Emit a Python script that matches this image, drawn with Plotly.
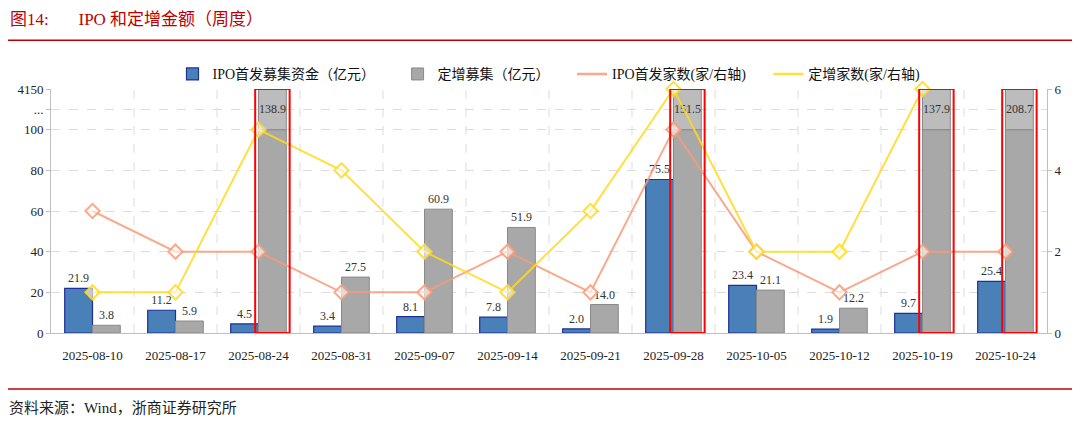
import plotly.graph_objects as go

categories = ["2025-08-10", "2025-08-17", "2025-08-24", "2025-08-31", "2025-09-07", "2025-09-14",
              "2025-09-21", "2025-09-28", "2025-10-05", "2025-10-12", "2025-10-19", "2025-10-24"]
ipo_amount = [21.9, 11.2, 4.5, 3.4, 8.1, 7.8, 2.0, 75.5, 23.4, 1.9, 9.7, 25.4]
placement_amount = [3.8, 5.9, 138.9, 27.5, 60.9, 51.9, 14.0, 151.5, 21.1, 12.2, 137.9, 208.7]
ipo_count = [3, 2, 2, 1, 1, 2, 1, 5, 2, 1, 2, 2]
placement_count = [1, 1, 5, 4, 2, 1, 3, 6, 2, 2, 6, None]

left_tickvals = [0, 20, 40, 60, 80, 100, 110, 120]
left_ticktext = ["0", "20", "40", "60", "80", "100", "...", "4150"]

BREAK = 100      # display value where axis breaks
TOP = 120        # display top of axis
FONT = "Liberation Serif, Noto Sans CJK SC, serif"
CJK = "Liberation Serif, Noto Sans CJK SC, serif"

BLUE = "#4a80b8"
BLUE_LINE = "#1f2f9a"
GRAY = "#a8a8a8"
GRAY_LIGHT = "#bcbcbc"
GRAY_LINE = "#8a8a8a"
SALMON = "rgba(248,155,120,0.85)"
YELLOW = "rgba(255,218,30,0.85)"

n = len(categories)
xs = list(range(n))
bargap = 0.33
PAD = "\u00a0\u00a0\u00a0\u00a0\u00a0"

fig = go.Figure()

fig.add_trace(go.Bar(
    x=xs, y=[min(v, BREAK) for v in ipo_amount], name="IPO首发募集资金（亿元）" + PAD,
    marker=dict(color=BLUE, line=dict(color=BLUE_LINE, width=1.2)),
    text=[f"{v:.1f}" for v in ipo_amount], textposition="outside",
    textfont=dict(family=FONT, size=12, color="#333333"), cliponaxis=False,
    offsetgroup="a", yaxis="y",
))

fig.add_trace(go.Bar(
    x=xs, y=[min(v, BREAK) for v in placement_amount], name="定增募集（亿元）" + PAD,
    marker=dict(color=GRAY, line=dict(color=GRAY_LINE, width=1)),
    text=[f"{v:.1f}" if v <= BREAK else "" for v in placement_amount], textposition="outside",
    textfont=dict(family=FONT, size=12, color="#333333"), cliponaxis=False,
    offsetgroup="b", yaxis="y",
))

over_idx = [i for i, v in enumerate(placement_amount) if v > BREAK]
fig.add_trace(go.Bar(
    x=over_idx, y=[TOP - BREAK for _ in over_idx], base=[BREAK for _ in over_idx],
    marker=dict(color=GRAY_LIGHT, line=dict(color=GRAY_LINE, width=1)),
    text=[f"{placement_amount[i]:.1f}" for i in over_idx], textposition="inside",
    insidetextanchor="middle", textangle=0, constraintext="none",
    textfont=dict(family=FONT, size=12, color="#333333"),
    offsetgroup="b", showlegend=False, yaxis="y",
))

fig.add_trace(go.Scatter(
    x=xs, y=ipo_count, name="IPO首发家数(家/右轴)", mode="lines+markers",
    line=dict(color=SALMON, width=2),
    marker=dict(symbol="diamond", size=11, color="rgba(255,255,255,0.6)", line=dict(color=SALMON, width=2)),
    yaxis="y2", cliponaxis=False, showlegend=False,
))
fig.add_trace(go.Scatter(
    x=xs, y=placement_count, name="定增家数(家/右轴)", mode="lines+markers",
    line=dict(color=YELLOW, width=2),
    marker=dict(symbol="diamond", size=11, color="rgba(255,255,255,0.6)", line=dict(color=YELLOW, width=2)),
    yaxis="y2", cliponaxis=False, showlegend=False,
))
# legend entries (line only)
fig.add_trace(go.Scatter(x=[None], y=[None], name="IPO首发家数(家/右轴)" + PAD, mode="lines",
                         line=dict(color=SALMON, width=2.5), yaxis="y2"))
fig.add_trace(go.Scatter(x=[None], y=[None], name="定增家数(家/右轴)", mode="lines",
                         line=dict(color=YELLOW, width=2.5), yaxis="y2"))

# red outlines around clipped bars
half_group = (1 - bargap) / 2
for i in over_idx:
    fig.add_shape(type="rect", xref="x", yref="y",
                  x0=i - 0.04, x1=i + half_group + 0.04, y0=0, y1=TOP,
                  line=dict(color="#ff0000", width=2), fillcolor="rgba(0,0,0,0)", layer="above")

# title, separator lines, source
fig.add_shape(type="line", xref="paper", yref="paper", x0=-0.044, x1=1.034, y0=1.2, y1=1.2,
              line=dict(color="#c00000", width=1.5))
fig.add_shape(type="line", xref="paper", yref="paper", x0=-0.044, x1=1.034, y0=-0.229, y1=-0.229,
              line=dict(color="#c00000", width=1.5))
fig.add_annotation(xref="paper", yref="paper", x=-0.043, y=1.283, xanchor="left", yanchor="middle",
                   text="图14:&nbsp;&nbsp;&nbsp;&nbsp;&nbsp;&nbsp;&nbsp;IPO 和定增金额（周度）", showarrow=False,
                   font=dict(family=CJK, size=17, color="#c00000"))
fig.add_annotation(xref="paper", yref="paper", x=-0.044, y=-0.307, xanchor="left", yanchor="middle",
                   text="资料来源：Wind，浙商证券研究所", showarrow=False,
                   font=dict(family=CJK, size=15, color="#222222"))

# the page body has an 8px default margin, so the figure is sized/offset to compensate
fig.update_layout(
    width=1072, height=419,
    margin=dict(l=43, r=33, t=81, b=94, autoexpand=False),
    paper_bgcolor="white", plot_bgcolor="white",
    barmode="group", bargap=bargap, bargroupgap=0,
    font=dict(family=FONT, size=13, color="#222222"),
    showlegend=True,
    legend=dict(orientation="h", x=0.5, y=1.06, xanchor="center", yanchor="middle",
                font=dict(family=CJK, size=14, color="#111111"), itemwidth=30,
                traceorder="normal", bgcolor="rgba(0,0,0,0)", tracegroupgap=0),
    xaxis=dict(
        type="linear", tickmode="array", tickvals=xs, ticktext=categories,
        range=[-0.5, n - 0.5], showgrid=False, zeroline=False,
        showline=True, linecolor="#bfbfbf", linewidth=1, ticks="",
        ticklabelstandoff=10,
        tickfont=dict(family=FONT, size=13, color="#222222"),
    ),
    yaxis=dict(
        range=[0, TOP], tickmode="array", tickvals=left_tickvals, ticktext=left_ticktext,
        showgrid=True, gridcolor="#dddddd", griddash="dash", gridwidth=1,
        zeroline=False, showline=True, linecolor="#bfbfbf", linewidth=1,
        ticks="outside", ticklen=4, tickcolor="#bfbfbf",
        tickfont=dict(family=FONT, size=13, color="#222222"),
    ),
    yaxis2=dict(
        range=[0, 6], overlaying="y", side="right", tickvals=[0, 2, 4, 6],
        showgrid=False, zeroline=False, showline=True, linecolor="#bfbfbf", linewidth=1,
        ticks="outside", ticklen=4, tickcolor="#bfbfbf",
        tickfont=dict(family=FONT, size=13, color="#222222"),
    ),
)

# vertical dashed gridlines at category boundaries
for b in range(1, n):
    fig.add_shape(type="line", xref="x", yref="paper", x0=b - 0.5, x1=b - 0.5, y0=0, y1=1,
                  line=dict(color="#dddddd", width=1, dash="dash"), layer="below")

fig.write_html("out.html")
